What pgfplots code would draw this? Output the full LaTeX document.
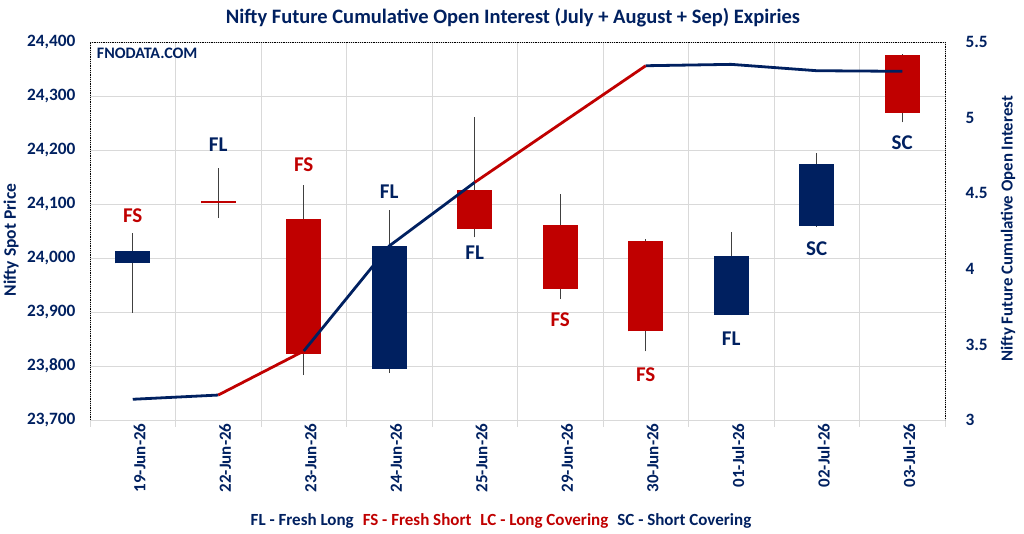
\documentclass[border=0pt]{standalone}
\usepackage{pgfplots}
\usepackage{pgfplotstable}
\pgfplotsset{compat=1.18}
\usepackage{fontspec}
\setmainfont{Carlito}
\definecolor{navy}{HTML}{002060}
\definecolor{dred}{HTML}{C00000}
\definecolor{wick}{HTML}{404040}
\definecolor{gridc}{HTML}{D9D9D9}

% wicks: x, low, high
\pgfplotstableread{
x lo hi
0 23899 24046
1 24074 24166
2 23783 24135
3 23787 24089
4 24038 24261
5 23924 24118
6 23827 24035
7 23894 24048
8 24058 24194
9 24251 24378
}\wicks
% red bodies
\pgfplotstableread{
x lo hi
1 24101 24106
2 23822 24072
4 24054 24126
5 23943 24061
6 23864 24031
9 24269 24376
}\redbodies
% navy bodies
\pgfplotstableread{
x lo hi
0 23990 24013
3 23795 24022
7 23895 24004
8 24060 24174
}\navybodies
% open interest
\pgfplotstableread{
x oi
0 3.137
1 3.165
2 3.456
3 4.151
4 4.572
5 4.958
6 5.343
7 5.352
8 5.310
9 5.306
}\oi

\begin{document}
\begin{tikzpicture}[x=1pt,y=1pt]
\path[use as bounding box] (0,0) rectangle (1024,534);
\begin{axis}[
  at={(90pt,114pt)}, anchor=south west, scale only axis,
  width=855pt, height=378pt,
  xmin=-0.5, xmax=9.5, ymin=23700, ymax=24400,
  xtick={0,...,9},
  xticklabels={19-Jun-26,22-Jun-26,23-Jun-26,24-Jun-26,25-Jun-26,29-Jun-26,30-Jun-26,01-Jul-26,02-Jul-26,03-Jul-26},
  minor xtick={-0.5,0.5,...,9.5},
  ytick={23700,23800,...,24400},
  scaled y ticks=false,
  /pgf/number format/assume math mode=true,
  yticklabel={\pgfmathprintnumber[fixed,1000 sep={,}]{\tick}},
  x tick label style={rotate=90, anchor=east, font=\bfseries\fontsize{17}{17}\selectfont, text=navy, yshift=-7pt},
  y tick label style={font=\bfseries\fontsize{17.3}{17.3}\selectfont, text=navy, xshift=-11pt},
  xminorgrids=true, xmajorgrids=false, ymajorgrids=true,
  grid style={gridc, line width=0.9pt},
  minor grid style={gridc, line width=0.9pt},
  major tick length=0pt, minor tick length=7pt, tick align=outside,
  minor tick style={gridc, line width=0.9pt},
  tick pos=left,
  axis line style={draw=none},
  clip=false,
]
% wicks
\addplot[draw=none, mark=none,
  error bars/.cd, y dir=plus, y explicit, error mark=none,
  error bar style={draw=wick, line width=1pt}]
  table[x=x, y=lo, y error plus expr=\thisrow{hi}-\thisrow{lo}] {\wicks};
% bodies
\addplot[draw=none, mark=none,
  error bars/.cd, y dir=plus, y explicit, error mark=none,
  error bar style={draw=dred, line width=35pt}]
  table[x=x, y=lo, y error plus expr=\thisrow{hi}-\thisrow{lo}] {\redbodies};
\addplot[draw=none, mark=none,
  error bars/.cd, y dir=plus, y explicit, error mark=none,
  error bar style={draw=navy, line width=35pt}]
  table[x=x, y=lo, y error plus expr=\thisrow{hi}-\thisrow{lo}] {\navybodies};
% frame
\draw[black, densely dotted, line width=0.8pt] (rel axis cs:0,0) -- (rel axis cs:0,1) -- (rel axis cs:1,1) -- (rel axis cs:1,0);
% labels
\begin{scope}[every node/.style={font=\bfseries\fontsize{21}{21}\selectfont}]
\node[text=dred] at (axis cs:0,24078) {FS};
\node[text=navy] at (axis cs:1,24209) {FL};
\node[text=dred] at (axis cs:2,24172) {FS};
\node[text=navy] at (axis cs:3,24123) {FL};
\node[text=navy] at (axis cs:4,24010) {FL};
\node[text=dred] at (axis cs:5,23886) {FS};
\node[text=dred] at (axis cs:6,23783) {FS};
\node[text=navy] at (axis cs:7,23851) {FL};
\node[text=navy] at (axis cs:8,24017) {SC};
\node[text=navy] at (axis cs:9,24214) {SC};
\end{scope}
\node[anchor=west, text=navy, font=\bfseries\fontsize{16}{16}\selectfont] at (rel axis cs:0.004,0.97) {FNODATA.COM};
\end{axis}
\begin{axis}[
  at={(90pt,114pt)}, anchor=south west, scale only axis,
  width=855pt, height=378pt,
  xmin=-0.5, xmax=9.5, ymin=3, ymax=5.5,
  axis x line=none, axis y line*=right,
  ytick={3,3.5,...,5.5},
  /pgf/number format/assume math mode=true,
  y tick label style={font=\bfseries\fontsize{17.3}{17.3}\selectfont, text=navy, anchor=west, xshift=17pt},
  major tick length=0pt,
  axis line style={draw=none},
]
\addplot[navy, line width=2.8pt] table[x=x, y=oi, skip coords between index={2}{10}] {\oi};
\addplot[dred, line width=2.8pt] table[x=x, y=oi, skip coords between index={0}{1}, skip coords between index={3}{10}] {\oi};
\addplot[navy, line width=2.8pt] table[x=x, y=oi, skip coords between index={0}{2}, skip coords between index={5}{10}] {\oi};
\addplot[dred, line width=2.8pt] table[x=x, y=oi, skip coords between index={0}{4}, skip coords between index={7}{10}] {\oi};
\addplot[navy, line width=2.8pt] table[x=x, y=oi, skip coords between index={0}{6}] {\oi};
\end{axis}
\node[text=navy, font=\bfseries\fontsize{20.5}{20.5}\selectfont] at (513,516) {Nifty Future Cumulative Open Interest (July + August + Sep) Expiries};
\node[text=navy, rotate=90, font=\bfseries\fontsize{17.5}{17.5}\selectfont] at (11,294) {Nifty Spot Price};
\node[text=navy, rotate=90, font=\bfseries\fontsize{16.8}{16.8}\selectfont] at (1008,305) {Nifty Future Cumulative Open Interest};
\node[font=\bfseries\fontsize{17}{17}\selectfont] at (501,13) {\textcolor{navy}{FL - Fresh Long}\hspace{9pt}\textcolor{dred}{FS - Fresh Short}\hspace{9pt}\textcolor{dred}{LC - Long Covering}\hspace{9pt}\textcolor{navy}{SC - Short Covering}};
\end{tikzpicture}
\end{document}
